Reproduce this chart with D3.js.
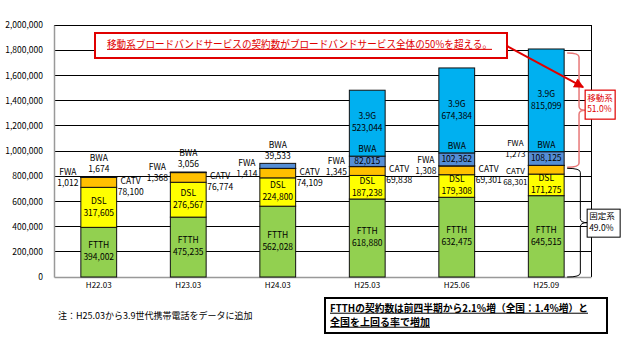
<!DOCTYPE html>
<html>
<head>
<meta charset="utf-8">
<script src="https://cdn.jsdelivr.net/npm/d3@7/dist/d3.min.js"></script>
<style>
body { margin: 0; background: #fff; }
text { font-family: "Noto Sans CJK JP", "Liberation Sans", sans-serif; }
</style>
</head>
<body>
<div id="chart"></div>
<script>
// data
var categories = ["H22.03", "H23.03", "H24.03", "H25.03", "H25.06", "H25.09"];
var ftth = [394002, 475235, 562028, 618880, 632475, 645515];
var dsl  = [317605, 276567, 224800, 187238, 179308, 171275];
var catv = [78100, 76774, 74109, 69838, 69301, 68301];
var fwa  = [1012, 1368, 1414, 1345, 1308, 1273];
var bwa  = [1674, 3056, 39533, 82015, 102362, 108125];
var g39  = [0, 0, 0, 523044, 674384, 815099];
var yTicks = [0, 200000, 400000, 600000, 800000, 1000000, 1200000, 1400000, 1600000, 1800000, 2000000];

var keys = ["FTTH", "DSL", "CATV", "FWA", "BWA", "3.9G"];
var colors = {"FTTH": "#92D050", "DSL": "#FFFF00", "CATV": "#FFC000", "FWA": "#7F7F7F", "BWA": "#558ED5", "3.9G": "#00B0F0"};
var mobileShare = "51.0%", fixedShare = "49.0%";

var w = 630, h = 350;
var margins = {top: 25, bottom: 73, left: 54, right: 39};

var rows = categories.map(function(c, i) {
  return {cat: c, "FTTH": ftth[i], "DSL": dsl[i], "CATV": catv[i], "FWA": fwa[i], "BWA": bwa[i], "3.9G": g39[i]};
});
var series = d3.stack().keys(keys)(rows);

var xScale = d3.scaleBand()
  .domain(categories)
  .range([margins.left, w - margins.right])
  .paddingInner(0.6)
  .paddingOuter(0.3);
var yScale = d3.scaleLinear()
  .domain([0, 2000000])
  .range([h - margins.bottom, margins.top]);

var svg = d3.select("#chart").append("svg")
  .attr("width", w)
  .attr("height", h);

var fmt = d3.format(",");

// grid
svg.append("g")
  .selectAll("line")
  .data(yTicks.slice(1))
  .enter()
  .append("line")
  .attr("x1", margins.left).attr("x2", w - margins.right)
  .attr("y1", function(d) { return yScale(d); })
  .attr("y2", function(d) { return yScale(d); })
  .attr("stroke", "#000")
  .attr("stroke-width", 1)
  .attr("shape-rendering", "crispEdges");
svg.append("line")
  .attr("x1", w - margins.right).attr("x2", w - margins.right)
  .attr("y1", margins.top).attr("y2", h - margins.bottom)
  .attr("stroke", "#000").attr("shape-rendering", "crispEdges");

var yAxis = d3.axisLeft(yScale).tickValues(yTicks).tickSize(0).tickPadding(11).tickFormat(fmt);
svg.append("g")
  .attr("transform", "translate(" + margins.left + ",0)")
  .call(yAxis)
  .call(function(g) {
    g.select(".domain").attr("stroke", "#999").attr("stroke-width", 1.5);
    g.selectAll("text").attr("font-size", 8.5).attr("fill", "#000")
      .attr("font-family", "'Noto Sans CJK JP', sans-serif");
  });

var xAxis = d3.axisBottom(xScale).tickSize(0).tickPadding(5);
svg.append("g")
  .attr("transform", "translate(0," + (h - margins.bottom) + ")")
  .call(xAxis)
  .call(function(g) {
    g.select(".domain").attr("stroke", "#999").attr("stroke-width", 1.5);
    g.selectAll("text").attr("font-size", 8).attr("fill", "#000")
      .attr("font-family", "'Noto Sans CJK JP', sans-serif");
  });

// bars
svg.append("g")
  .selectAll("g")
  .data(series)
  .enter()
  .append("g")
  .attr("fill", function(s) { return colors[s.key]; })
  .selectAll("rect")
  .data(function(s) { return s; })
  .enter()
  .append("rect")
  .filter(function(d) { return d[1] - d[0] > 0; })
  .attr("x", function(d) { return xScale(d.data.cat); })
  .attr("y", function(d) { return yScale(d[1]); })
  .attr("width", xScale.bandwidth())
  .attr("height", function(d) { return yScale(d[0]) - yScale(d[1]); })
  .attr("stroke", "#111")
  .attr("stroke-width", 1);

// labels
var labels = svg.append("g").attr("font-size", 8.5).attr("fill", "#000");
function label(x, y, t, size) {
  var el = labels.append("text").attr("x", x).attr("y", y).attr("text-anchor", "middle")
    .attr("dominant-baseline", "middle").text(t);
  if (size) el.attr("font-size", size);
}
var S = {};
series.forEach(function(s) { S[s.key] = s; });
var bw = xScale.bandwidth();
var last = categories.length - 1;

categories.forEach(function(c, i) {
  var x0 = xScale(c), cx = x0 + bw / 2, x1 = x0 + bw;
  ["FTTH", "DSL", "3.9G"].forEach(function(k) {
    var d = S[k][i];
    if (d[1] - d[0] <= 0) return;
    var m = (yScale(d[0]) + yScale(d[1])) / 2;
    label(cx, m - 6, k);
    label(cx, m + 6, fmt(d.data[k]));
  });
  // CATV
  var dc = S["CATV"][i];
  var mc = (yScale(dc[0]) + yScale(dc[1])) / 2;
  // FWA
  var df = S["FWA"][i];
  var yf = yScale(df[1]);
  if (i === last) {
    // the last bar has FWA and CATV stacked on its left side
    label(x0 - 13, yf - 21, "FWA", 8);
    label(x0 - 13, yf - 10, fmt(fwa[i]), 8);
    label(x0 - 13, mc + 2, "CATV", 8);
    label(x0 - 13, mc + 13, fmt(catv[i]), 8);
  } else {
    label(x0 - 13, yf - 5, "FWA");
    label(x0 - 13, yf + 6, fmt(fwa[i]));
    label(x1 + 14, mc - 1, "CATV");
    label(x1 + 14, mc + 10, fmt(catv[i]));
  }
  // BWA
  var db = S["BWA"][i];
  if (g39[i] > 0) {
    label(cx, yScale(db[1]) - 6, "BWA");
    label(cx, (yScale(db[0]) + yScale(db[1])) / 2 + 0.5, fmt(bwa[i]));
  } else {
    label(cx, yScale(db[1]) - 18, "BWA");
    label(cx, yScale(db[1]) - 7, fmt(bwa[i]));
  }
});

// brackets on the last bar
var lx = xScale(categories[last]) + bw;
var topAll = yScale(S["3.9G"][last][1]);
var topFixed = yScale(S["FWA"][last][1]);
var base = yScale(0);
function brace(xa, ya, yb, wd) {
  var ym = (ya + yb) / 2, xm = xa + wd * 0.66, r = 4;
  return "M" + xa + "," + ya + " Q" + xm + "," + ya + " " + xm + "," + (ya + r) +
    " L" + xm + "," + (ym - r) + " Q" + xm + "," + ym + " " + (xa + wd) + "," + ym +
    " Q" + xm + "," + ym + " " + xm + "," + (ym + r) +
    " L" + xm + "," + (yb - r) + " Q" + xm + "," + yb + " " + xa + "," + yb;
}
svg.append("path")
  .attr("d", brace(lx + 3, topAll + 4, topFixed + 2, 18))
  .attr("fill", "none").attr("stroke", "#E87878").attr("stroke-width", 1.5);
svg.append("path")
  .attr("d", brace(lx + 3, topFixed + 3, base, 20))
  .attr("fill", "none").attr("stroke", "#000").attr("stroke-width", 1);

var mobY = (topAll + topFixed) / 2;
svg.append("rect").attr("x", lx + 21).attr("y", mobY - 17).attr("width", 30).attr("height", 29)
  .attr("fill", "#fff").attr("stroke", "#E00000").attr("stroke-width", 1.2);
svg.append("text").attr("x", lx + 23).attr("y", mobY - 8).attr("font-size", 8.5).attr("fill", "#E00000")
  .attr("dominant-baseline", "middle").text("移動系");
svg.append("text").attr("x", lx + 23).attr("y", mobY + 3).attr("font-size", 8.5).attr("fill", "#E00000")
  .attr("dominant-baseline", "middle").text(mobileShare);

var fixY = (topFixed + base) / 2;
svg.append("rect").attr("x", lx + 23).attr("y", fixY - 12).attr("width", 33).attr("height", 28)
  .attr("fill", "#fff").attr("stroke", "#000").attr("stroke-width", 1);
svg.append("text").attr("x", lx + 25).attr("y", fixY - 4).attr("font-size", 8.5)
  .attr("dominant-baseline", "middle").text("固定系");
svg.append("text").attr("x", lx + 25).attr("y", fixY + 8).attr("font-size", 8.5)
  .attr("dominant-baseline", "middle").text(fixedShare);

// callout top
svg.append("defs").append("marker")
  .attr("id", "arr").attr("viewBox", "0 0 10 10").attr("refX", 9).attr("refY", 5)
  .attr("markerWidth", 5).attr("markerHeight", 5).attr("orient", "auto")
  .append("path").attr("d", "M0,0 L10,5 L0,10 z").attr("fill", "#E00000");
svg.append("line")
  .attr("x1", 507).attr("y1", 46).attr("x2", lx + 19).attr("y2", mobY - 20)
  .attr("stroke", "#E00000").attr("stroke-width", 2).attr("marker-end", "url(#arr)");
svg.append("rect").attr("x", 95).attr("y", 33).attr("width", 412).attr("height", 25)
  .attr("fill", "#fff").attr("stroke", "#E00000").attr("stroke-width", 2);
svg.append("text").attr("x", 107).attr("y", 45).attr("font-size", 10.5).attr("fill", "#E00000")
  .attr("dominant-baseline", "middle").attr("text-decoration", "underline")
  .attr("textLength", 385).attr("lengthAdjust", "spacingAndGlyphs")
  .text("移動系ブロードバンドサービスの契約数がブロードバンドサービス全体の50%を超える。");

// notes
svg.append("text").attr("x", 58).attr("y", 317).attr("font-size", 9)
  .attr("dominant-baseline", "middle")
  .text("注：H25.03から3.9世代携帯電話をデータに追加");
svg.append("rect").attr("x", 325).attr("y", 298).attr("width", 282).attr("height", 35)
  .attr("fill", "#fff").attr("stroke", "#000").attr("stroke-width", 2);
svg.append("text").attr("x", 330).attr("y", 309).attr("font-size", 10).attr("font-weight", "bold")
  .attr("dominant-baseline", "middle").attr("text-decoration", "underline")
  .attr("textLength", 258).attr("lengthAdjust", "spacingAndGlyphs")
  .text("FTTHの契約数は前四半期から2.1%増（全国：1.4%増）と");
svg.append("text").attr("x", 330).attr("y", 323).attr("font-size", 10).attr("font-weight", "bold")
  .attr("dominant-baseline", "middle").attr("text-decoration", "underline")
  .text("全国を上回る率で増加");
</script>
</body>
</html>
